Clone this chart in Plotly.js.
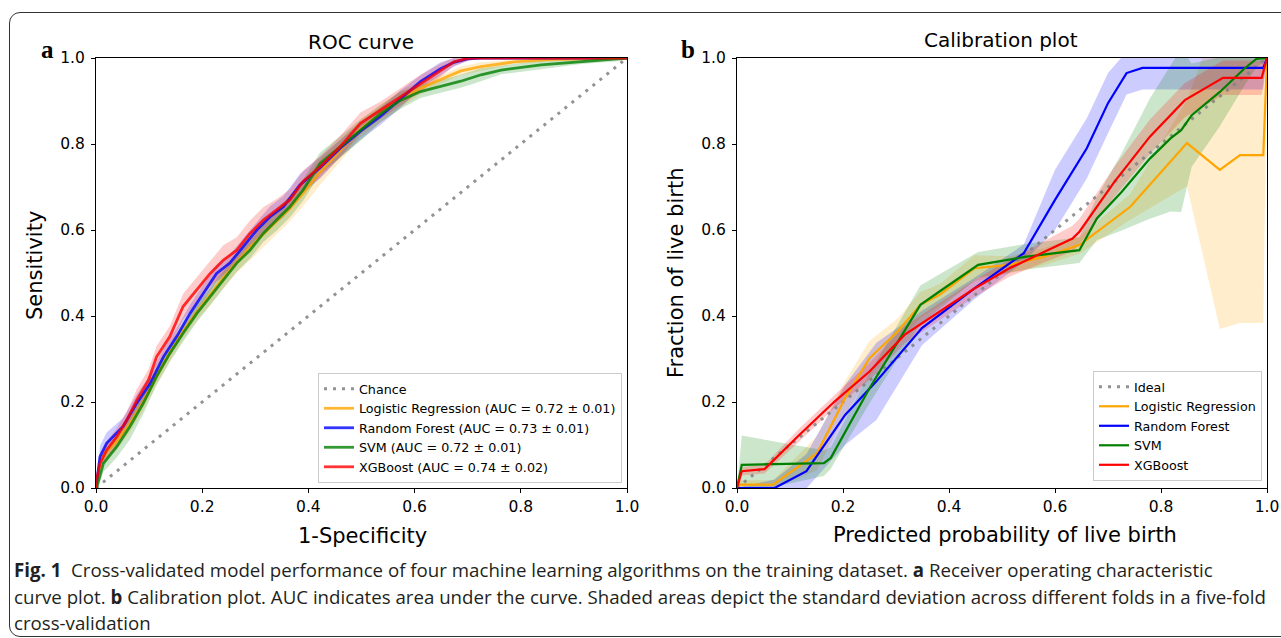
<!DOCTYPE html>
<html>
<head>
<meta charset="utf-8">
<script src="https://cdn.plot.ly/plotly-3.0.1.min.js"></script>
<style>
  html, body { margin:0; padding:0; background:#fff; width:1281px; height:638px; overflow:hidden; }
  #frame { position:absolute; left:9px; top:12px; width:1320px; height:625px; border:1px solid #333; border-radius:11px; box-sizing:border-box; }
  #chart { position:absolute; left:0; top:0; width:1281px; height:638px; }
  .cap { position:absolute; left:14px; white-space:nowrap; font-family:"Open Sans","Noto Sans",sans-serif; font-size:19px; line-height:26px; color:#231f20; transform-origin:0 0; }
  .cap b { font-weight:bold; }
</style>
</head>
<body>
<div id="frame"></div>
<div id="chart"></div>
<div class="cap" id="cap1" style="top:557px"><b>Fig. 1</b>&nbsp; Cross-validated model performance of four machine learning algorithms on the training dataset. <b>a</b> Receiver operating characteristic</div>
<div class="cap" id="cap2" style="top:584px">curve plot. <b>b</b> Calibration plot. AUC indicates area under the curve. Shaded areas depict the standard deviation across different folds in a five-fold</div>
<div class="cap" id="cap3" style="top:610px">cross-validation</div>
<script>
// ---------------- Data ----------------
const tickVals = [0, 0.2, 0.4, 0.6, 0.8, 1.0];
const tickText = ['0.0', '0.2', '0.4', '0.6', '0.8', '1.0'];
const diagX = [0, 1];
const diagY = [0, 1];

const rocNames = ['Logistic Regression (AUC = 0.72 \u00b1 0.01)', 'Random Forest (AUC = 0.73 \u00b1 0.01)',
                  'SVM (AUC = 0.72 \u00b1 0.01)', 'XGBoost (AUC = 0.74 \u00b1 0.02)'];
const calNames = ['Logistic Regression', 'Random Forest', 'SVM', 'XGBoost'];

// ROC: Logistic Regression
const rocLrX = [0, 0.0075, 0.02, 0.04, 0.064, 0.089, 0.114, 0.139, 0.164, 0.19, 0.215, 0.24, 0.265, 0.29, 0.315, 0.34, 0.365, 0.39, 0.422, 0.46, 0.498, 0.536, 0.574, 0.611, 0.649, 0.687, 0.725, 0.788, 0.851, 0.914, 1.0];
const rocLrY = [0, 0.06, 0.085, 0.11, 0.15, 0.2, 0.26, 0.315, 0.365, 0.41, 0.45, 0.49, 0.525, 0.56, 0.59, 0.62, 0.65, 0.685, 0.735, 0.785, 0.835, 0.87, 0.905, 0.93, 0.95, 0.97, 0.98, 0.991, 0.996, 0.998, 1.0];
const rocLrStd = [0, 0.015, 0.02, 0.02, 0.02, 0.02, 0.02, 0.02, 0.02, 0.02, 0.025, 0.025, 0.025, 0.03, 0.03, 0.03, 0.03, 0.03, 0.03, 0.025, 0.02, 0.02, 0.02, 0.015, 0.01, 0.01, 0.01, 0.005, 0.005, 0.002, 0];

// ROC: Random Forest
const rocRfX = [0, 0.0075, 0.02, 0.051, 0.077, 0.102, 0.127, 0.152, 0.177, 0.202, 0.227, 0.252, 0.277, 0.303, 0.328, 0.353, 0.384, 0.422, 0.46, 0.498, 0.536, 0.574, 0.611, 0.649, 0.674, 0.7, 0.725, 1.0];
const rocRfY = [0, 0.073, 0.104, 0.143, 0.198, 0.243, 0.305, 0.352, 0.406, 0.453, 0.499, 0.523, 0.561, 0.6, 0.631, 0.654, 0.705, 0.745, 0.79, 0.83, 0.865, 0.905, 0.945, 0.975, 0.99, 0.998, 1.0, 1.0];
const rocRfStd = [0, 0.025, 0.025, 0.02, 0.02, 0.02, 0.02, 0.02, 0.02, 0.02, 0.02, 0.02, 0.02, 0.02, 0.025, 0.025, 0.025, 0.025, 0.02, 0.02, 0.02, 0.02, 0.015, 0.015, 0.01, 0.005, 0, 0];

// ROC: SVM
const rocSvmX = [0, 0.001, 0.014, 0.039, 0.064, 0.089, 0.114, 0.139, 0.164, 0.19, 0.215, 0.24, 0.265, 0.29, 0.315, 0.34, 0.365, 0.39, 0.422, 0.498, 0.536, 0.574, 0.611, 0.649, 0.687, 0.725, 0.763, 0.838, 0.914, 0.99, 1.0];
const rocSvmY = [0, 0.0, 0.057, 0.096, 0.143, 0.197, 0.259, 0.313, 0.36, 0.406, 0.445, 0.484, 0.523, 0.553, 0.592, 0.623, 0.654, 0.693, 0.755, 0.832, 0.871, 0.902, 0.922, 0.934, 0.946, 0.961, 0.972, 0.984, 0.991, 0.998, 1.0];
const rocSvmStd = [0, 0.01, 0.02, 0.025, 0.03, 0.025, 0.02, 0.02, 0.02, 0.02, 0.02, 0.02, 0.02, 0.02, 0.02, 0.025, 0.025, 0.025, 0.025, 0.025, 0.02, 0.02, 0.015, 0.015, 0.015, 0.015, 0.01, 0.01, 0.005, 0.005, 0];

// ROC: XGBoost
const rocXgbX = [0, 0.001, 0.0075, 0.02, 0.039, 0.058, 0.077, 0.099, 0.114, 0.139, 0.164, 0.19, 0.215, 0.24, 0.265, 0.29, 0.315, 0.34, 0.365, 0.39, 0.422, 0.46, 0.498, 0.536, 0.574, 0.611, 0.649, 0.674, 0.7, 0.725, 1.0];
const rocXgbY = [0, 0.019, 0.057, 0.088, 0.119, 0.158, 0.205, 0.251, 0.305, 0.352, 0.422, 0.46, 0.499, 0.53, 0.553, 0.592, 0.623, 0.647, 0.67, 0.713, 0.747, 0.794, 0.848, 0.879, 0.91, 0.941, 0.972, 0.991, 0.999, 1.0, 1.0];
const rocXgbStd = [0, 0.01, 0.015, 0.02, 0.02, 0.02, 0.025, 0.025, 0.025, 0.025, 0.03, 0.03, 0.03, 0.035, 0.03, 0.03, 0.03, 0.025, 0.025, 0.025, 0.025, 0.025, 0.025, 0.02, 0.02, 0.02, 0.015, 0.01, 0.005, 0, 0];

// Calibration: Logistic Regression
const calLrX = [0, 0.005, 0.068, 0.151, 0.204, 0.25, 0.303, 0.346, 0.382, 0.448, 0.514, 0.58, 0.646, 0.742, 0.849, 0.911, 0.949, 0.993, 1.0];
const calLrY = [0, 0.008, 0.008, 0.081, 0.209, 0.302, 0.364, 0.426, 0.449, 0.511, 0.519, 0.538, 0.565, 0.654, 0.802, 0.74, 0.774, 0.774, 1.0];
const calLrStd = [0, 0.01, 0.01, 0.04, 0.04, 0.04, 0.03, 0.03, 0.025, 0.03, 0.02, 0.02, 0.02, 0.03, 0.1, 0.37, 0.39, 0.39, 0];

// Calibration: Random Forest
const calRfX = [0, 0.071, 0.131, 0.204, 0.263, 0.349, 0.448, 0.541, 0.6, 0.628, 0.66, 0.7, 0.735, 0.765, 0.993, 1.0];
const calRfY = [0, 0, 0.039, 0.17, 0.248, 0.372, 0.464, 0.546, 0.67, 0.725, 0.79, 0.895, 0.965, 0.977, 0.977, 1.0];
const calRfStd = [0, 0.02, 0.04, 0.07, 0.09, 0.04, 0.025, 0.02, 0.07, 0.07, 0.07, 0.07, 0.05, 0.05, 0.05, 0];

// Calibration: SVM
const calSvmX = [0, 0.009, 0.164, 0.177, 0.25, 0.303, 0.346, 0.382, 0.455, 0.547, 0.646, 0.679, 0.726, 0.779, 0.818, 0.838, 0.858, 0.911, 0.957, 0.98, 1.0];
const calSvmY = [0, 0.054, 0.058, 0.07, 0.232, 0.34, 0.426, 0.457, 0.519, 0.538, 0.553, 0.627, 0.689, 0.766, 0.813, 0.832, 0.867, 0.921, 0.975, 0.998, 1.0];
const calSvmStd = [0, 0.068, 0.03, 0.025, 0.035, 0.04, 0.045, 0.04, 0.03, 0.03, 0.03, 0.05, 0.09, 0.14, 0.17, 0.19, 0.12, 0.08, 0.04, 0.02, 0];

// Calibration: XGBoost
const calXgbX = [0, 0.009, 0.052, 0.118, 0.184, 0.25, 0.316, 0.382, 0.448, 0.514, 0.58, 0.633, 0.646, 0.712, 0.779, 0.845, 0.917, 0.99, 1.0];
const calXgbY = [0, 0.039, 0.044, 0.124, 0.201, 0.271, 0.356, 0.41, 0.464, 0.511, 0.55, 0.58, 0.596, 0.712, 0.817, 0.902, 0.954, 0.954, 1.0];
const calXgbStd = [0, 0.01, 0.01, 0.015, 0.015, 0.02, 0.02, 0.02, 0.02, 0.02, 0.025, 0.03, 0.03, 0.035, 0.04, 0.04, 0.04, 0.04, 0];

// ---------------- Styling ----------------
const rgb = { orange: '255,165,0', blue: '0,0,255', green: '0,128,0', red: '255,0,0' };
const FONT = 'DejaVu Sans, sans-serif';
const W = 1281, H = 638;
const px = v => v / W;
const py = v => (H - v) / H;

function band(x, y, s, col, xa, ya) {
  const up = y.map((v, i) => v + s[i]);
  const lo = y.map((v, i) => v - s[i]);
  return { x: x.concat(x.slice().reverse()), y: up.concat(lo.slice().reverse()),
           type: 'scatter', mode: 'lines', fill: 'toself', fillcolor: 'rgba(' + col + ',0.2)',
           line: { width: 0 }, showlegend: false, hoverinfo: 'skip', xaxis: xa, yaxis: ya };
}
function line(x, y, name, color, width, xa, ya, leg, dash) {
  return { x: x, y: y, name: name, type: 'scatter', mode: 'lines',
           line: { color: color, width: width, dash: dash || 'solid' },
           xaxis: xa, yaxis: ya, legend: leg, hoverinfo: 'skip' };
}

const rocSets = [[rocLrX, rocLrY, rocLrStd, 'orange'], [rocRfX, rocRfY, rocRfStd, 'blue'],
                 [rocSvmX, rocSvmY, rocSvmStd, 'green'], [rocXgbX, rocXgbY, rocXgbStd, 'red']];
const calSets = [[calLrX, calLrY, calLrStd, 'orange'], [calRfX, calRfY, calRfStd, 'blue'],
                 [calSvmX, calSvmY, calSvmStd, 'green'], [calXgbX, calXgbY, calXgbStd, 'red']];

const traces = [];
rocSets.forEach(s => traces.push(band(s[0], s[1], s[2], rgb[s[3]], 'x', 'y')));
calSets.forEach(s => traces.push(band(s[0], s[1], s[2], rgb[s[3]], 'x2', 'y2')));
traces.push(line(diagX, diagY, 'Chance', 'rgba(128,128,128,0.85)', 3, 'x', 'y', 'legend', '3px,6px'));
rocSets.forEach((s, i) => traces.push(line(s[0], s[1], rocNames[i], 'rgba(' + rgb[s[3]] + ',0.8)', 2.8, 'x', 'y', 'legend')));
traces.push(line(diagX, diagY, 'Ideal', 'rgba(128,128,128,0.85)', 3, 'x2', 'y2', 'legend2', '3px,6px'));
calSets.forEach((s, i) => traces.push(line(s[0], s[1], calNames[i], 'rgb(' + rgb[s[3]] + ')', 2.2, 'x2', 'y2', 'legend2')));

function axis(domain, anchor) {
  return { domain: domain, anchor: anchor, range: [0, 1], tickvals: tickVals, ticktext: tickText,
           showgrid: false, zeroline: false, showline: true, mirror: true, linecolor: '#000', linewidth: 1,
           ticks: 'outside', ticklen: 4, tickwidth: 1, tickcolor: '#000',
           tickfont: { family: FONT, size: 15.5, color: '#000' }, fixedrange: true };
}

const legendBase = { bgcolor: 'rgba(255,255,255,0.85)', bordercolor: '#cccccc', borderwidth: 1,
                     font: { family: FONT, size: 12.7, color: '#000' }, itemwidth: 30, tracegroupgap: 0,
                     xanchor: 'right', yanchor: 'bottom', traceorder: 'normal' };

const ann = (text, x, y, size, extra) => Object.assign({ text: text, xref: 'paper', yref: 'paper', x: px(x), y: py(y),
  showarrow: false, xanchor: 'center', yanchor: 'middle', font: { family: FONT, size: size, color: '#000' } }, extra || {});

const yAx1 = Object.assign(axis([py(488), py(58)], 'x'), { ticklabelstandoff: 3 });
const yAx2 = Object.assign(axis([py(488), py(58)], 'x2'), { ticklabelstandoff: 3 });

const layout = {
  width: W, height: H, margin: { l: 0, r: 0, t: 0, b: 0 },
  paper_bgcolor: 'rgba(0,0,0,0)', plot_bgcolor: '#fff', showlegend: true,
  xaxis: axis([px(96), px(627)], 'y'),
  yaxis: yAx1,
  xaxis2: axis([px(737), px(1267)], 'y2'),
  yaxis2: yAx2,
  legend: Object.assign({}, legendBase, { x: px(622), y: py(483) }),
  legend2: Object.assign({}, legendBase, { x: px(1262), y: py(481) }),
  annotations: [
    ann('ROC curve', 361, 42, 20),
    ann('Calibration plot', 1001, 40, 20),
    ann('1-Specificity', 362, 536, 21),
    ann('Predicted probability of live birth', 1005, 535, 21),
    ann('Sensitivity', 35, 266, 21, { textangle: -90 }),
    ann('Fraction of live birth', 676, 273, 21, { textangle: -90 }),
    ann('<b>a</b>', 47, 50, 25, { font: { family: 'Liberation Serif, DejaVu Serif, serif', size: 25, color: '#000' } }),
    ann('<b>b</b>', 688, 49, 25, { font: { family: 'Liberation Serif, DejaVu Serif, serif', size: 25, color: '#000' } })
  ]
};

Plotly.newPlot('chart', traces, layout, { displayModeBar: false, staticPlot: true });

// Fit the caption lines to the reference line lengths (condensed typeface look).
(function fitCaption() {
  const c2 = document.getElementById('cap2');
  const natural = c2.getBoundingClientRect().width;
  const s = 1252 / natural;
  ['cap1', 'cap2', 'cap3'].forEach(id => {
    document.getElementById(id).style.transform = 'scaleX(' + s.toFixed(4) + ')';
  });
})();
</script>
</body>
</html>
